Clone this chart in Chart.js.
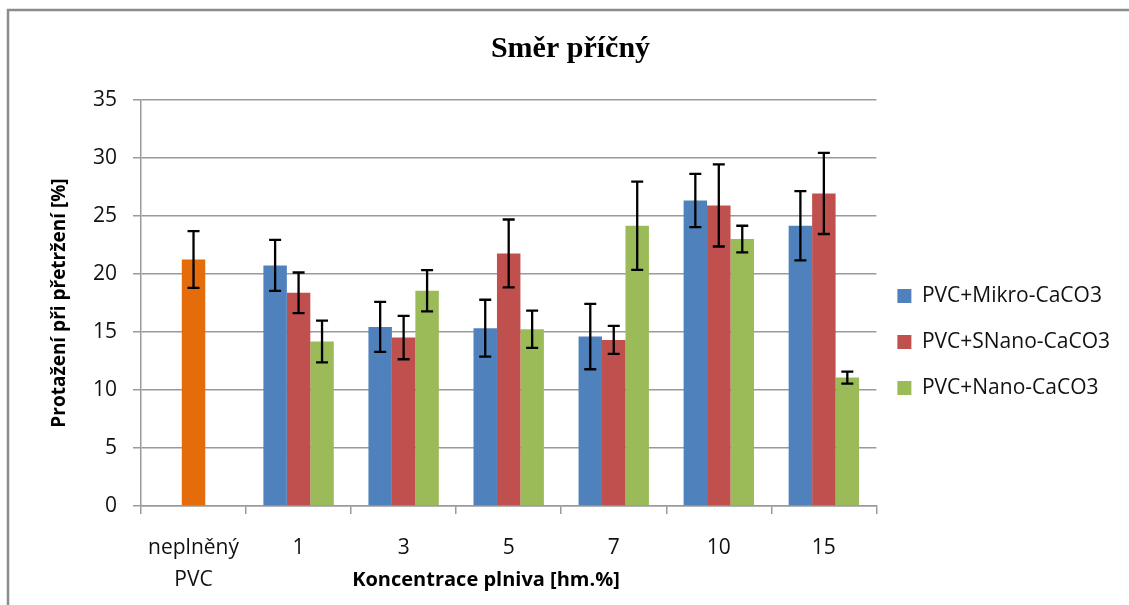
<!DOCTYPE html>
<html lang="cs">
<head>
<meta charset="utf-8">
<title>Směr příčný</title>
<script src="https://cdn.jsdelivr.net/npm/chart.js@4.4.1/dist/chart.umd.min.js"></script>
<style>
  html, body { margin: 0; padding: 0; background: #ffffff; }
  #wrap { width: 1129px; height: 605px; }
</style>
</head>
<body>
<div id="wrap"><canvas id="chart" width="1129" height="605"></canvas></div>
<script>
// Categories: filler concentration [hm.%]
const categories = [['neplněný', 'PVC'], '1', '3', '5', '7', '10', '15'];

// Elongation at break [%] and its deviation for each material
const pvcValues   = [21.25, null, null, null, null, null, null];
const pvcErrors   = [2.45, null, null, null, null, null, null];

const mikroValues = [null, 20.74, 15.44, 15.33, 14.61, 26.34, 24.16];
const mikroErrors = [null, 2.2, 2.15, 2.45, 2.82, 2.3, 2.98];

const snanoValues = [null, 18.38, 14.52, 21.77, 14.32, 25.91, 26.95];
const snanoErrors = [null, 1.75, 1.87, 2.93, 1.2, 3.54, 3.5];

const nanoValues  = [null, 14.18, 18.55, 15.24, 24.16, 23.01, 11.07];
const nanoErrors  = [null, 1.8, 1.78, 1.6, 3.8, 1.15, 0.52];

// Value axis ticks
const yTicks = [0, 5, 10, 15, 20, 25, 30, 35];

const seriesNames = ['PVC+Mikro-CaCO3', 'PVC+SNano-CaCO3', 'PVC+Nano-CaCO3', 'neplněný PVC'];

const gridColor = '#9a9a9a';
const tickFont = { family: '"Open Sans", "Liberation Sans", sans-serif', size: 21 };

// Grey frame around the chart
const framePlugin = {
  id: 'frame',
  beforeDraw(chart) {
    const ctx = chart.ctx;
    ctx.save();
    ctx.fillStyle = '#ffffff';
    ctx.fillRect(0, 0, chart.width, chart.height);
    ctx.strokeStyle = '#8c8c8c';
    ctx.lineWidth = 2.5;
    ctx.beginPath();
    ctx.moveTo(8, chart.height);
    ctx.lineTo(8, 10);
    ctx.lineTo(chart.width, 10);
    ctx.stroke();
    ctx.restore();
  }
};

// Pull the legend a little closer to the plot area
const legendNudgePlugin = {
  id: 'legendNudge',
  afterLayout(chart) {
    if (chart.legend) {
      chart.legend.left -= 4;
      chart.legend.right -= 4;
    }
  }
};

// Error bars drawn on top of each bar from the deviation arrays
const errorBarPlugin = {
  id: 'errorBars',
  afterDatasetsDraw(chart) {
    const ctx = chart.ctx;
    const yScale = chart.scales.y;
    ctx.save();
    ctx.strokeStyle = '#000000';
    ctx.lineWidth = 2.3;
    chart.data.datasets.forEach((ds, di) => {
      const meta = chart.getDatasetMeta(di);
      ds.data.forEach((v, i) => {
        const err = ds.errors[i];
        if (v == null || err == null) return;
        const x = meta.data[i].x;
        const yTop = yScale.getPixelForValue(v + err);
        const yBot = yScale.getPixelForValue(v - err);
        const cap = 6;
        ctx.beginPath();
        ctx.moveTo(x, yTop); ctx.lineTo(x, yBot);
        ctx.moveTo(x - cap, yTop); ctx.lineTo(x + cap, yTop);
        ctx.moveTo(x - cap, yBot); ctx.lineTo(x + cap, yBot);
        ctx.stroke();
      });
    });
    ctx.restore();
  }
};

// Category axis title
const xTitlePlugin = {
  id: 'xTitle',
  afterDraw(chart) {
    const ctx = chart.ctx;
    ctx.save();
    ctx.font = 'bold 20px "Open Sans", "Liberation Sans", sans-serif';
    ctx.fillStyle = '#000000';
    ctx.textAlign = 'center';
    ctx.textBaseline = 'middle';
    ctx.fillText('Koncentrace plniva [hm.%]', 486, 580);
    ctx.restore();
  }
};

new Chart(document.getElementById('chart'), {
  type: 'bar',
  data: {
    labels: categories,
    datasets: [
      { label: seriesNames[0], data: mikroValues, errors: mikroErrors, backgroundColor: '#4f81bd', stack: 'a' },
      { label: seriesNames[1], data: snanoValues, errors: snanoErrors, backgroundColor: '#c0504d', stack: 'b' },
      { label: seriesNames[2], data: nanoValues, errors: nanoErrors, backgroundColor: '#9bbb59', stack: 'c' },
      { label: seriesNames[3], data: pvcValues, errors: pvcErrors, backgroundColor: '#e46c0a', stack: 'b' }
    ]
  },
  options: {
    responsive: false,
    animation: false,
    devicePixelRatio: 1,
    datasets: { bar: { categoryPercentage: 0.67, barPercentage: 1.0, borderWidth: 0 } },
    layout: { padding: { left: 17, right: 5, top: 0, bottom: 0 } },
    plugins: {
      tooltip: { enabled: false },
      title: {
        display: true,
        text: 'Směr příčný',
        color: '#000000',
        font: { family: '"Liberation Serif", "DejaVu Serif", serif', size: 30, weight: 'bold', lineHeight: 1.2 },
        padding: { top: 31, bottom: 33 }
      },
      legend: {
        position: 'right',
        align: 'start',
        maxWidth: 253,
        title: { display: true, text: '', font: { size: 10, lineHeight: 1 }, padding: { top: 250.5, bottom: 0 } },
        labels: {
          filter: (item) => item.datasetIndex < 3,
          boxWidth: 14,
          boxHeight: 14,
          padding: 25,
          color: '#111111',
          font: { family: '"Open Sans", "Liberation Sans", sans-serif', size: 21 }
        }
      }
    },
    scales: {
      x: {
        grid: { display: true, drawOnChartArea: false, drawTicks: true, tickLength: 8, offset: true, color: gridColor, lineWidth: 1.5 },
        border: { display: true, color: gridColor, width: 1.5 },
        ticks: { color: '#111111', font: Object.assign({ lineHeight: 1.52 }, tickFont), padding: 18, maxRotation: 0, autoSkip: false },
        afterFit(scale) { scale.height = 99; }
      },
      y: {
        stacked: false,
        min: yTicks[0],
        max: yTicks[yTicks.length - 1],
        afterBuildTicks(scale) { scale.ticks = yTicks.map(v => ({ value: v })); },
        grid: { color: gridColor, lineWidth: 1.5, drawTicks: true, tickLength: 8 },
        border: { display: true, color: gridColor, width: 1.5 },
        ticks: { color: '#111111', font: tickFont, padding: 16 },
        title: {
          display: true,
          text: 'Protažení při přetržení [%]',
          color: '#000000',
          font: { family: '"Open Sans", "Liberation Sans", sans-serif', size: 19, weight: 'bold', lineHeight: 1.2 },
          padding: { top: 31, bottom: 0 }
        },
        afterFit(scale) { scale.width = 124; }
      }
    }
  },
  plugins: [framePlugin, legendNudgePlugin, errorBarPlugin, xTitlePlugin]
});
</script>
</body>
</html>
